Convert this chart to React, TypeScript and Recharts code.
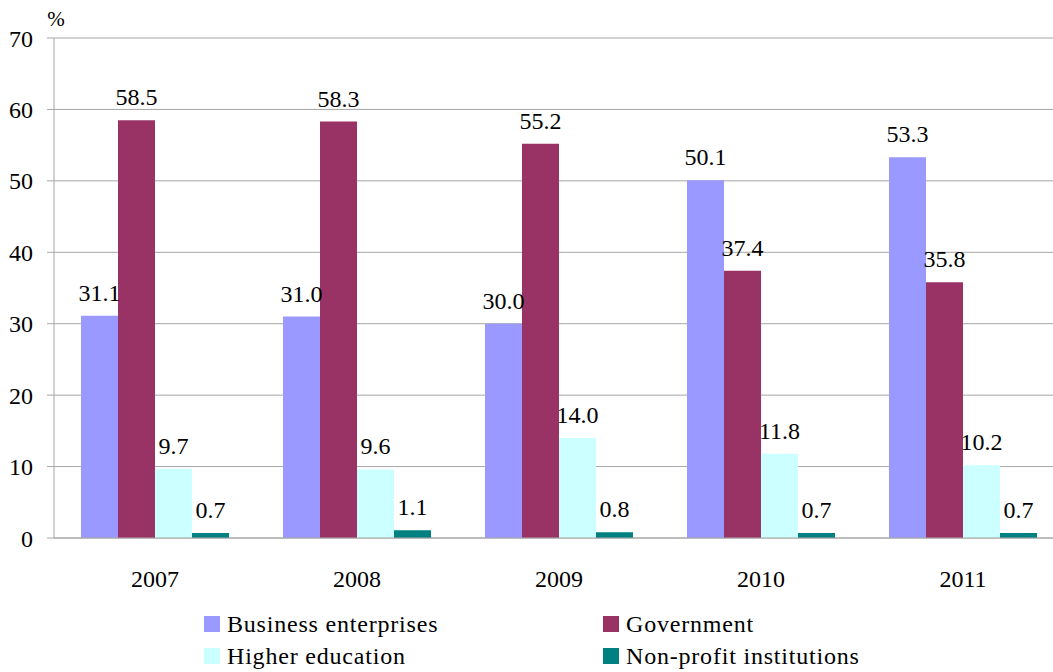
import { BarChart, Bar, XAxis, YAxis, CartesianGrid, LabelList, Legend } from 'recharts';

const years = ['2007', '2008', '2009', '2010', '2011'];
const business = [31.1, 31.0, 30.0, 50.1, 53.3];
const government = [58.5, 58.3, 55.2, 37.4, 35.8];
const higherEducation = [9.7, 9.6, 14.0, 11.8, 10.2];
const nonProfit = [0.7, 1.1, 0.8, 0.7, 0.7];
const yTicks = [0, 10, 20, 30, 40, 50, 60, 70];
const edgeTicks = [0, 1, 2, 3, 4, 5];

const series = [
  { key: 'business', name: 'Business enterprises', color: '#9999FF' },
  { key: 'government', name: 'Government', color: '#993366' },
  { key: 'higher', name: 'Higher education', color: '#CCFFFF' },
  { key: 'nonprofit', name: 'Non-profit institutions', color: '#008080' },
];

const data = years.map((year, i) => ({
  year,
  business: business[i],
  government: government[i],
  higher: higherEducation[i],
  nonprofit: nonProfit[i],
}));

const FONT = 'Liberation Serif, DejaVu Serif, serif';
const GRID = '#a6a6a6';

function LegendBox() {
  // two columns: Business / Government, Higher / Non-profit
  return (
    <div
      style={{
        display: 'grid',
        gridTemplateColumns: '399px 1fr',
        gridAutoRows: '32px',
        paddingLeft: 204,
        height: 64,
        boxSizing: 'border-box',
        fontFamily: FONT,
        fontSize: 24,
        letterSpacing: 0.8,
        color: '#000',
      }}
    >
      {series.map((s) => (
        <div key={s.key} style={{ display: 'flex', alignItems: 'center', whiteSpace: 'nowrap' }}>
          <span style={{ width: 16, height: 16, background: s.color, marginRight: 7, flex: 'none' }} />
          <span>{s.name}</span>
        </div>
      ))}
    </div>
  );
}

export default function App() {
  return (
    <div
      style={{
        position: 'absolute',
        left: 0,
        top: 0,
        width: 1053,
        height: 672,
        overflow: 'hidden',
        background: '#fff',
        fontFamily: FONT,
      }}
    >
      <BarChart
        width={1070}
        height={672}
        data={data}
        margin={{ top: 38, right: 6, bottom: 0, left: 0 }}
        barCategoryGap={27}
        barGap={0}
        style={{ fontFamily: FONT }}
      >
        <CartesianGrid vertical={false} stroke={GRID} />
        <XAxis
          xAxisId="edges"
          type="number"
          domain={[0, 5]}
          ticks={edgeTicks}
          tick={false}
          axisLine={false}
          tickLine={{ stroke: GRID }}
          tickSize={8}
          height={0}
        />
        <XAxis
          dataKey="year"
          tickLine={false}
          tickSize={0}
          tickMargin={32}
          height={70}
          axisLine={{ stroke: GRID }}
          tick={{ fill: '#000', fontSize: 24, fontFamily: FONT }}
        />
        <YAxis
          domain={[0, 70]}
          ticks={yTicks}
          width={54}
          tickSize={7}
          tickMargin={14}
          axisLine={{ stroke: GRID }}
          tickLine={{ stroke: GRID }}
          tick={{ fill: '#000', fontSize: 24, fontFamily: FONT }}
          label={{ value: '%', position: 'top', dx: 29, offset: 12, fill: '#000', fontSize: 21, fontFamily: FONT }}
        />
        <Legend verticalAlign="bottom" wrapperStyle={{ left: 0, width: 1053 }} content={<LegendBox />} />
        {series.map((s) => (
          <Bar key={s.key} dataKey={s.key} name={s.name} fill={s.color} isAnimationActive={false}>
            <LabelList
              dataKey={s.key}
              position="top"
              offset={15}
              formatter={(v: number) => v.toFixed(1)}
              fill="#000"
              fontSize={24}
              fontFamily={FONT}
            />
          </Bar>
        ))}
      </BarChart>
    </div>
  );
}
